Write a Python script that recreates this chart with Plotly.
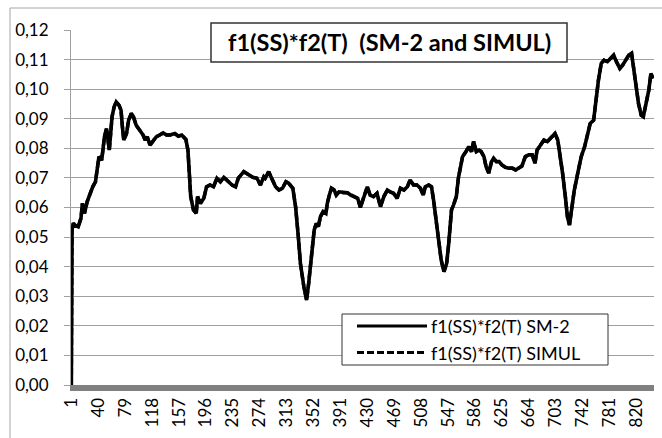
import plotly.graph_objects as go

idx = [1, 2, 4, 6, 11, 15, 17, 20, 24, 28, 32, 36, 39, 41, 45, 47, 49, 52, 54, 56, 58, 60, 63, 66, 70, 73, 75, 77,
       81, 84, 88, 91, 95, 100, 105, 108, 111, 115, 120, 124, 129, 134, 139, 144, 151, 156, 161, 167, 170, 172,
       174, 178, 182, 184, 188, 193, 197, 202, 207, 212, 217, 222, 226, 234, 239, 243, 251, 258, 264, 270, 275,
       280, 282, 287, 292, 297, 302, 307, 312, 316, 322, 326, 330, 333, 338, 342, 345, 349, 353, 356, 359, 362,
       366, 370, 372, 375, 378, 382, 385, 389, 395, 401, 406, 411, 416, 420, 425, 430, 434, 439, 444, 449, 454,
       459, 463, 468, 473, 478, 483, 488, 492, 497, 502, 507, 511, 514, 519, 523, 526, 530, 534, 537, 541, 545,
       548, 552, 555, 559, 562, 565, 568, 573, 577, 581, 584, 588, 592, 595, 599, 602, 606, 610, 613, 617, 621,
       625, 630, 635, 640, 645, 650, 654, 659, 664, 669, 673, 676, 681, 686, 691, 696, 700, 702, 706, 709, 713,
       717, 720, 723, 726, 730, 735, 740, 745, 749, 753, 758, 761, 765, 769, 773, 778, 783, 787, 791, 796, 800,
       804, 809, 813, 816, 819, 823, 827, 830, 834, 838, 841, 844]

sm2 = [0.0, 0.0525, 0.0547, 0.0540, 0.0535, 0.0564, 0.0614, 0.0580, 0.0620, 0.0648, 0.0670, 0.0687, 0.0744,
       0.0772, 0.0760, 0.0794, 0.0839, 0.0867, 0.0817, 0.0794, 0.0850, 0.0907, 0.0940, 0.0957, 0.0946, 0.0929,
       0.0873, 0.0828, 0.0850, 0.0895, 0.0918, 0.0907, 0.0878, 0.0861, 0.0845, 0.0828, 0.0839, 0.0811, 0.0828,
       0.0839, 0.0845, 0.0852, 0.0845, 0.0845, 0.0850, 0.0841, 0.0845, 0.0830, 0.0794, 0.0716, 0.0637, 0.0592,
       0.0580, 0.0637, 0.0614, 0.0631, 0.0670, 0.0676, 0.0670, 0.0699, 0.0687, 0.0702, 0.0693, 0.0676, 0.0670,
       0.0699, 0.0721, 0.0710, 0.0702, 0.0699, 0.0676, 0.0704, 0.0699, 0.0721, 0.0693, 0.0670, 0.0659, 0.0665,
       0.0687, 0.0682, 0.0665, 0.0603, 0.0501, 0.0411, 0.0332, 0.0287, 0.0344, 0.0445, 0.0524, 0.0546, 0.0535,
       0.0569, 0.0586, 0.0580, 0.0614, 0.0642, 0.0665, 0.0659, 0.0642, 0.0653, 0.0650, 0.0650, 0.0642, 0.0637,
       0.0631, 0.0600, 0.0637, 0.0670, 0.0642, 0.0637, 0.0648, 0.0603, 0.0637, 0.0659, 0.0653, 0.0648, 0.0631,
       0.0665, 0.0659, 0.0670, 0.0693, 0.0676, 0.0676, 0.0665, 0.0642, 0.0670, 0.0676, 0.0670, 0.0625, 0.0558,
       0.0479, 0.0423, 0.0383, 0.0411, 0.0479, 0.0592, 0.0609, 0.0637, 0.0700, 0.0737, 0.0772, 0.0789, 0.0806,
       0.0789, 0.0823, 0.0789, 0.0794, 0.0789, 0.0772, 0.0739, 0.0716, 0.0755, 0.0766, 0.0755, 0.0755, 0.0744,
       0.0736, 0.0733, 0.0733, 0.0727, 0.0733, 0.0740, 0.0772, 0.0778, 0.0778, 0.0750, 0.0794, 0.0811, 0.0828,
       0.0823, 0.0834, 0.0845, 0.0850, 0.0828, 0.0783, 0.0716, 0.0637, 0.0569, 0.0541, 0.0592, 0.0659, 0.0716,
       0.0772, 0.0806, 0.0845, 0.0884, 0.0895, 0.0963, 0.1031, 0.1087, 0.1098, 0.1093, 0.1104, 0.1115, 0.1093,
       0.1070, 0.1081, 0.1098, 0.1115, 0.1121, 0.1076, 0.1020, 0.0952, 0.0912, 0.0907, 0.0952, 0.0997, 0.1053,
       0.1036]

# SIMUL series coincides with SM-2 at this resolution
simul = list(sm2)

n_categories = 845
tick_labels = [str(v) for v in range(1, 821, 39)]
y_ticks = [round(0.01 * k, 2) for k in range(0, 13)]

title_text = "f1(SS)*f2(T)  (SM-2 and SIMUL)"
name_sm2 = "f1(SS)*f2(T) SM-2"
name_simul = "f1(SS)*f2(T) SIMUL"

FONT = "Lato, 'Open Sans', sans-serif"

fig = go.Figure()
fig.add_trace(go.Scatter(x=idx, y=sm2, mode="lines", name=name_sm2,
                         line=dict(color="black", width=3.6), showlegend=False))
fig.add_trace(go.Scatter(x=idx, y=simul, mode="lines", name=name_simul,
                         line=dict(color="black", width=3.4, dash="7px,3px"), showlegend=False))

L, R, T, B = 71, 8, 30, 53
W, H = 662, 438
pw, ph = W - L - R, H - T - B


def px(x):
    return (x - L) / pw


def py(y):
    return (H - B - y) / ph


shapes = [
    # outer chart border
    dict(type="rect", xref="paper", yref="paper", x0=px(10), x1=px(700), y0=py(480), y1=py(8),
         line=dict(color="#a6a6a6", width=1), fillcolor="rgba(0,0,0,0)", layer="below"),
    # title box
    dict(type="rect", xref="paper", yref="paper", x0=px(211), x1=px(567), y0=py(62), y1=py(23),
         line=dict(color="#333333", width=1.5), fillcolor="white", layer="above"),
    # legend box
    dict(type="rect", xref="paper", yref="paper", x0=px(342), x1=px(608), y0=py(365), y1=py(314),
         line=dict(color="#333333", width=1), fillcolor="white", layer="above"),
    dict(type="line", xref="paper", yref="paper", x0=px(357), x1=px(427), y0=py(326), y1=py(326),
         line=dict(color="black", width=3), layer="above"),
    dict(type="line", xref="paper", yref="paper", x0=px(357), x1=px(427), y0=py(352.5), y1=py(352.5),
         line=dict(color="black", width=3, dash="7px,3px"), layer="above"),
]

annotations = [
    dict(text="<b>" + title_text + "</b>", xref="paper", yref="paper", x=px(389), y=py(42.5),
         xanchor="center", yanchor="middle", showarrow=False,
         font=dict(family=FONT, size=23.5, color="black")),
    dict(text=name_sm2, xref="paper", yref="paper", x=px(429), y=py(326),
         xanchor="left", yanchor="middle", showarrow=False,
         font=dict(family=FONT, size=18, color="black")),
    dict(text=name_simul, xref="paper", yref="paper", x=px(429), y=py(352.5),
         xanchor="left", yanchor="middle", showarrow=False,
         font=dict(family=FONT, size=18, color="black")),
]

fig.update_layout(
    width=W, height=H,
    margin=dict(l=L, r=R, t=T, b=B),
    paper_bgcolor="white", plot_bgcolor="white",
    separators=", ",
    font=dict(family=FONT, size=17, color="black"),
    shapes=shapes, annotations=annotations,
    showlegend=False,
)
fig.update_xaxes(
    range=[0.5, n_categories + 0.5],
    tickmode="array", tickvals=[int(t) for t in tick_labels], ticktext=tick_labels,
    tickangle=-90, showgrid=False, zeroline=False,
    showline=True, linecolor="#808080", linewidth=6,
    ticks="", tickfont=dict(family=FONT, size=17, color="black"),
)
fig.update_yaxes(
    range=[0, 0.12], tickmode="array", tickvals=y_ticks, tickformat=".2f",
    showgrid=True, gridcolor="#a0a0a0", gridwidth=1, zeroline=False,
    showline=True, linecolor="#a0a0a0", linewidth=1,
    ticks="outside", ticklen=6, tickcolor="#a0a0a0",
    ticklabelstandoff=12,
    tickfont=dict(family=FONT, size=17, color="black"),
)

fig.write_html("out.html", config={"displayModeBar": False},
               post_script="document.body.style.margin='0';document.body.style.overflow='hidden';")
